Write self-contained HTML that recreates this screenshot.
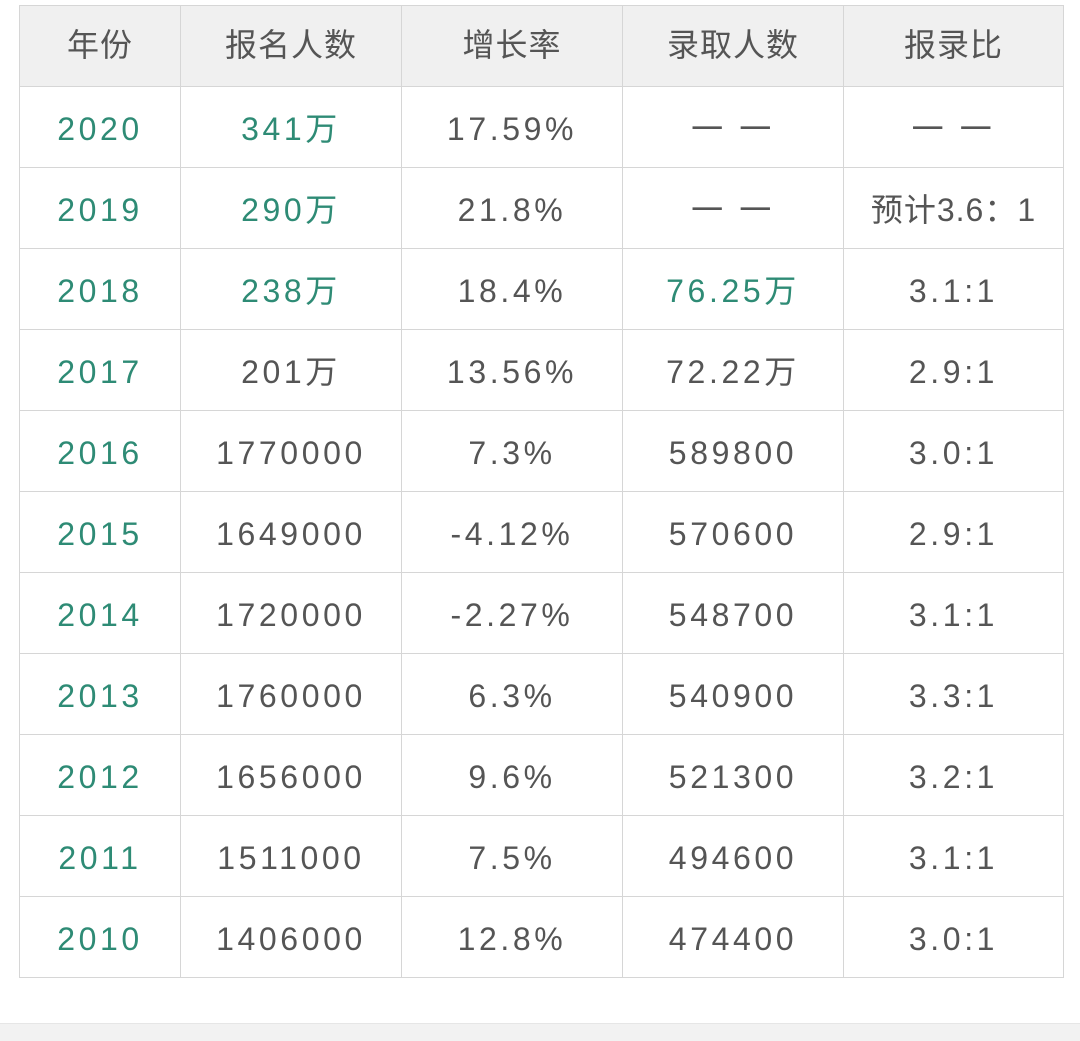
<!DOCTYPE html>
<html><head><meta charset="utf-8"><style>
body{margin:0;width:1080px;height:1040px;background:#fff;position:relative;overflow:hidden;font-family:"Liberation Sans","Noto Sans CJK SC",sans-serif;}
table{position:absolute;left:19px;top:5px;border-collapse:collapse;table-layout:fixed;}
td{border:1.5px solid #d6d6d6;height:77px;text-align:center;font-size:32px;line-height:36px;color:#555;letter-spacing:3.6px;padding:3px 0 0 0;}
tr.h td{background:#f0f0f0;color:#555;letter-spacing:1px;padding:0 0 3px 0;}
.g{color:#2e8b75;}
.band{position:absolute;left:0;top:1023px;width:1080px;height:17px;background:#f2f2f2;border-top:1px solid #e6e6e6;}
</style></head><body>
<table>
<colgroup><col style="width:161px"><col style="width:221px"><col style="width:221px"><col style="width:221px"><col style="width:220px"></colgroup>
<tr class="h"><td>年份</td><td>报名人数</td><td>增长率</td><td>录取人数</td><td>报录比</td></tr>
<tr><td class="g">2020</td><td class="g">341万</td><td>17.59%</td><td>一 一</td><td>一 一</td></tr>
<tr><td class="g">2019</td><td class="g">290万</td><td>21.8%</td><td>一 一</td><td style="letter-spacing:1px">预计3.6：1</td></tr>
<tr><td class="g">2018</td><td class="g">238万</td><td>18.4%</td><td class="g">76.25万</td><td>3.1:1</td></tr>
<tr><td class="g">2017</td><td>201万</td><td>13.56%</td><td>72.22万</td><td>2.9:1</td></tr>
<tr><td class="g">2016</td><td>1770000</td><td>7.3%</td><td>589800</td><td>3.0:1</td></tr>
<tr><td class="g">2015</td><td>1649000</td><td>-4.12%</td><td>570600</td><td>2.9:1</td></tr>
<tr><td class="g">2014</td><td>1720000</td><td>-2.27%</td><td>548700</td><td>3.1:1</td></tr>
<tr><td class="g">2013</td><td>1760000</td><td>6.3%</td><td>540900</td><td>3.3:1</td></tr>
<tr><td class="g">2012</td><td>1656000</td><td>9.6%</td><td>521300</td><td>3.2:1</td></tr>
<tr><td class="g">2011</td><td>1511000</td><td>7.5%</td><td>494600</td><td>3.1:1</td></tr>
<tr><td class="g">2010</td><td>1406000</td><td>12.8%</td><td>474400</td><td>3.0:1</td></tr>
</table>
<div class="band"></div>
</body></html>
